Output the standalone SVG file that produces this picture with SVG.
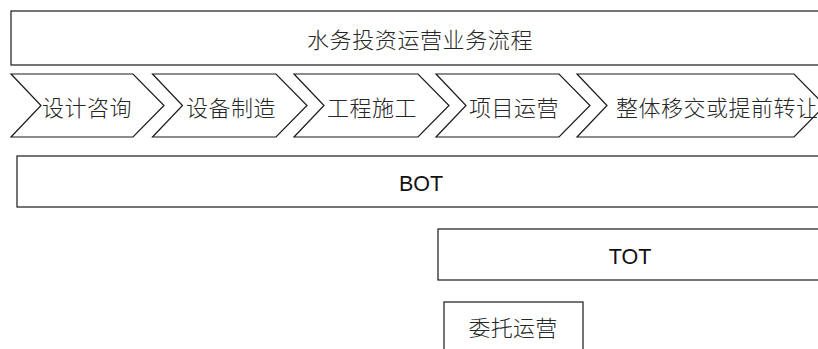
<svg xmlns="http://www.w3.org/2000/svg" width="818" height="349" viewBox="0 0 818 349">
<style>
.box{fill:#fff;stroke:#1a1a1a;stroke-width:1.2}
.cj{font-family:"Noto Sans CJK SC","Noto Sans",sans-serif;font-size:22px;font-weight:300;fill:#262626;text-anchor:middle}
.lat{font-family:"Liberation Sans","Arial",sans-serif;font-size:21.5px;fill:#111;text-anchor:middle}
</style>
<rect width="818" height="349" fill="#fff"/>
<g id="title">
<rect class="box" x="11" y="11" width="818" height="54"/>
<text class="cj" x="420" y="48" letter-spacing="0.6">水务投资运营业务流程</text>
</g>
<g id="step1">
<polygon class="box" points="11,74 133,74 164,105.5 133,137 11,137 41,105.5"/>
<text class="cj" x="87" y="115.5" letter-spacing="0.5">设计咨询</text>
</g>
<g id="step2">
<polygon class="box" points="152.5,74 276,74 307,105.5 276,137 152.5,137 182.5,105.5"/>
<text class="cj" x="231" y="115.5" letter-spacing="0.5">设备制造</text>
</g>
<g id="step3">
<polygon class="box" points="294,74 418,74 449,105.5 418,137 294,137 324,105.5"/>
<text class="cj" x="372" y="115.5" letter-spacing="0.5">工程施工</text>
</g>
<g id="step4">
<polygon class="box" points="436,74 559,74 590,105.5 559,137 436,137 466,105.5"/>
<text class="cj" x="514" y="115.5" letter-spacing="0.5">项目运营</text>
</g>
<g id="step5">
<polygon class="box" points="577,74 794,74 825,105.5 794,137 577,137 607,105.5"/>
<text class="cj" x="616" y="115.5" letter-spacing="0.5" style="text-anchor:start">整体移交或提前转让</text>
</g>
<g id="bot">
<rect class="box" x="17" y="156" width="820" height="51"/>
<text class="lat" x="421" y="190.5">BOT</text>
</g>
<g id="tot">
<rect class="box" x="438" y="229" width="400" height="51"/>
<text class="lat" x="630" y="263.5">TOT</text>
</g>
<g id="entrust">
<rect class="box" x="444" y="302" width="139" height="60"/>
<text class="cj" x="513" y="336" letter-spacing="0.3">委托运营</text>
</g>
<g id="connectors"/>
</svg>
